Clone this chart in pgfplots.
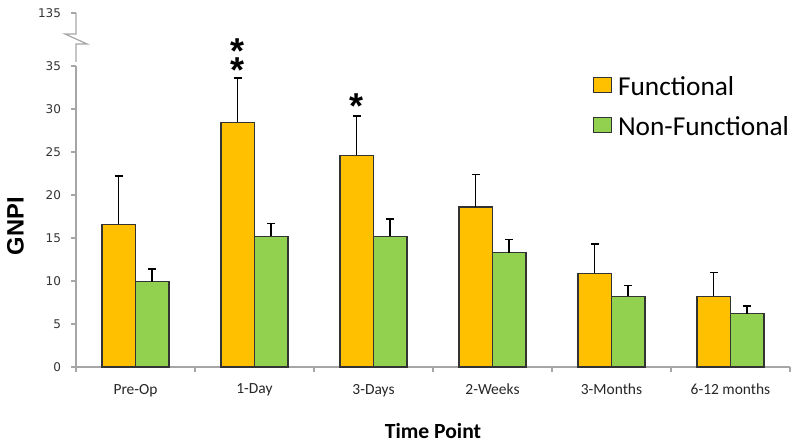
\documentclass[border=0pt]{standalone}
\usepackage{fontspec}
\setmainfont{Liberation Sans}
\newfontfamily\calfont{Carlito}
\newfontfamily\dvsfont{DejaVu Sans}
\usepackage{pgfplots}
\pgfplotsset{compat=1.18}
\usepackage{pgfplotstable}
\definecolor{fgold}{HTML}{FFC000}
\definecolor{ngreen}{HTML}{92D050}
\definecolor{axgray}{HTML}{A6A6A6}
\pgfplotstableread{
x f fe n ne
0 16.6 5.6 9.9 1.5
1 28.45 5.15 15.2 1.5
2 24.6 4.6 15.2 2.0
3 18.6 3.8 13.3 1.5
4 10.9 3.4 8.2 1.25
5 8.2 2.8 6.2 0.9
}\data
\begin{document}
\begin{tikzpicture}
\useasboundingbox (-57pt,-56.25pt) rectangle (543pt,275.25pt);
\begin{axis}[
 at={(0,0)}, anchor=south west,
 scale only axis, width=535.5pt, height=265.5pt,
 xmin=-0.5, xmax=5.5, ymin=0, ymax=41.16,
 clip=false,
 axis x line=bottom, axis y line=left,
 x axis line style={-, draw=axgray, line width=0.9pt},
 y axis line style={draw=none},
 xtick={0,1,2,3,4,5},
 xticklabels={Pre-Op,1-Day,3-Days,2-Weeks,3-Months,6-12 months},
 minor xtick={-0.5,0.5,1.5,2.5,3.5,4.5,5.5},
 major x tick style={draw=none},
 ytick={0,5,10,15,20,25,30,35,41.16},
 yticklabels={0,5,10,15,20,25,30,35,135},
 tick align=outside,
 major tick length=3.75pt, minor tick length=3.75pt,
 tick style={axgray, line width=0.9pt},
 /pgf/number format/assume math mode=true,
 xticklabel style={font=\calfont\fontsize{11.6}{13}\selectfont, text=black!85, yshift=-5.5pt},
 yticklabel style={font=\dvsfont\fontsize{9}{11}\selectfont, text=black!80, xshift=-4pt},
 ylabel={GNPI},
 ylabel style={font=\bfseries\fontsize{17.8}{20}\selectfont, at={(axis description cs:-0.0847,0.398)}, anchor=center},
 xlabel={Time Point},
 xlabel style={font=\calfont\bfseries\fontsize{16.2}{18}\selectfont, inner sep=1pt, at={(axis description cs:0.5,-0.1808)}, anchor=center},
 legend style={draw=none, fill=none, at={(axis description cs:0.724,0.829)}, anchor=north west,
   font=\calfont\fontsize{20.5}{24}\selectfont, row sep=10.5pt, inner sep=0pt},
 legend cell align=left,
 legend image code/.code={\draw[#1, line width=0.9pt, draw=black!80] (0pt,-4.1pt) rectangle (13.5pt,7.1pt); \path (15.75pt,0pt);},
]
\addplot[ybar, bar width=25.1pt, bar shift=0pt, fill=fgold, draw=black!80, line width=0.9pt,
  error bars/.cd, y dir=plus, y explicit,
  error bar style={black, line width=1.1pt},
  error mark options={rotate=90, mark size=3pt, line width=1.1pt, black}]
  table[x expr=\thisrow{x}-0.14062, y=f, y error=fe]{\data};
\addlegendentry{Functional}
\addplot[ybar, bar width=25.1pt, bar shift=0pt, fill=ngreen, draw=black!80, line width=0.9pt,
  error bars/.cd, y dir=plus, y explicit,
  error bar style={black, line width=1.1pt},
  error mark options={rotate=90, mark size=3pt, line width=1.1pt, black}]
  table[x expr=\thisrow{x}+0.14062, y=n, y error=ne]{\data};
\addlegendentry{Non-Functional}
% broken y axis line
\draw[axgray, line width=0.9pt] (axis cs:-0.5,0) -- (axis cs:-0.5,35);
\draw[axgray, line width=0.9pt] (axis cs:-0.5,35.47) -- (axis cs:-0.5,37.56) -- ([xshift=8.25pt]axis cs:-0.5,37.56)
  -- ([xshift=-8.25pt]axis cs:-0.5,38.72) -- (axis cs:-0.5,38.72) -- (axis cs:-0.5,41.16);
% significance marks
\node[anchor=base, inner sep=0pt, font=\bfseries\fontsize{27}{30}\selectfont, yshift=-15.4pt] at (axis cs:0.85938,37.65) {*};
\node[anchor=base, inner sep=0pt, font=\bfseries\fontsize{27}{30}\selectfont, yshift=-15.4pt] at (axis cs:0.85938,35.45) {*};
\node[anchor=base, inner sep=0pt, font=\bfseries\fontsize{27}{30}\selectfont, yshift=-15.4pt] at (axis cs:1.85938,31.3) {*};
\end{axis}
\end{tikzpicture}
\end{document}
